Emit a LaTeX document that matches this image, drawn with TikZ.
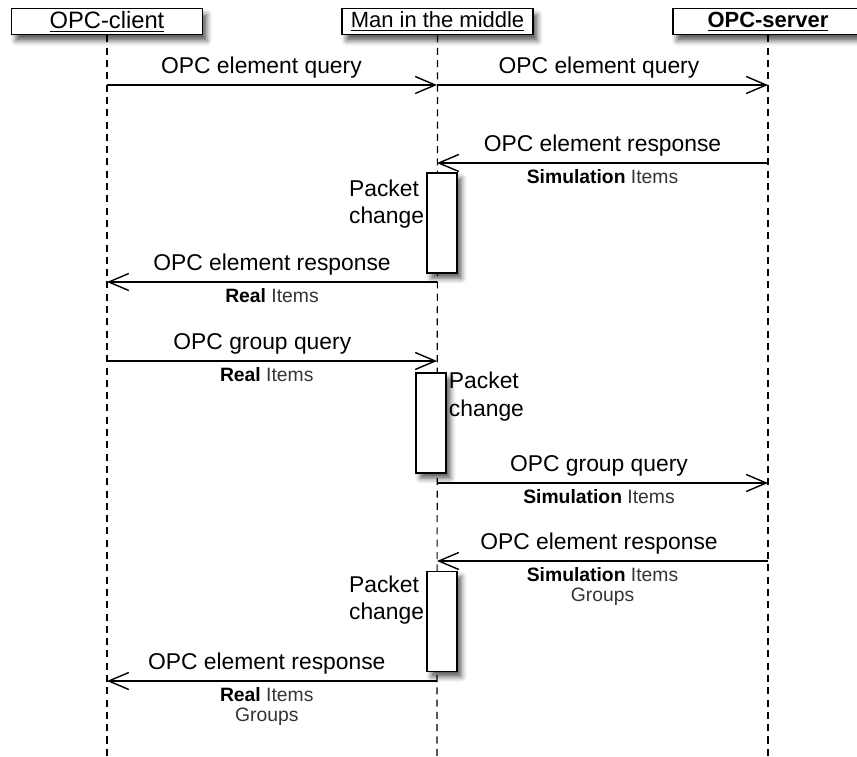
\documentclass[tikz,border=0pt]{standalone}
\usepackage{fontspec}
\setmainfont{Liberation Sans}
\usetikzlibrary{arrows.meta,shadows.blur}
\tikzset{
  head/.style={draw,fill=white,line width=1.1pt,minimum width=3.82cm,minimum height=0.52cm,
    inner sep=0pt,font=\fontsize{12.5}{14}\selectfont,
    blur shadow={shadow xshift=2.5pt,shadow yshift=-3.5pt,shadow blur radius=3pt,shadow opacity=65}},
  akt/.style={draw,fill=white,line width=1pt,minimum width=0.6cm,minimum height=2cm,inner sep=0pt,
    blur shadow={shadow xshift=2.5pt,shadow yshift=-3pt,shadow blur radius=3pt,shadow opacity=65}},
  life/.style={dash pattern=on 4pt off 3pt,line width=0.65pt},
  msg/.style={-{Straight Barb[length=4mm,width=3.4mm]},line width=0.8pt},
  lab/.style={font=\fontsize{13}{15}\selectfont},
  sub/.style={font=\fontsize{11}{11.4}\selectfont,align=center,text=black!80},
  pc/.style={font=\fontsize{13}{15.5}\selectfont,align=left,inner sep=1pt},
}

\begin{document}
\begin{tikzpicture}[x=0.02cm,y=-0.02cm]
  \useasboundingbox (0,0) rectangle (857,756);
  % lanes
  \node[head,font=\fontsize{13.5}{15}\selectfont] (client) at (107,21.5) {\underline{OPC-client}};
  \node[head] (mitm) at (437.5,21.5) {\underline{Man in the middle}};
  \node[head] (server) at (768,21.5) {\underline{\textbf{OPC-server}}};
  \coordinate (cend) at (107,756);
  \coordinate (mend) at (437,756);
  \coordinate (send) at (768,756);
  \draw[life] (client.south) -- (cend);
  \draw[life] (mitm.south) -- (mend);
  \draw[life] (server.south) -- (send);
  \foreach \n/\y in {1/85,2/163,3/282,4/361,5/483,6/561,7/681}{
    \coordinate (c\n) at (107,\y);
    \coordinate (m\n) at (437,\y);
    \coordinate (s\n) at (768,\y);
  }
  % packet changes
  \node[akt] (pc1) at (442,223) {};
  \node[akt] (pc2) at (431,423) {};
  \node[akt] (pc3) at (442,621.5) {};
  \node[pc,anchor=north east,yshift=-3.4pt] (pk1) at (pc1.north west) {Packet\\change};
  \node[pc,anchor=north west,yshift=1.1pt] (pk2) at (pc2.north east) {Packet\\change};
  \node[pc,anchor=north east,yshift=-1.7pt] (pk3) at (pc3.north west) {Packet\\change};
  % messages
  \draw[msg] (c1) -- (m1) node[lab,midway,above,xshift=-6pt]{OPC element query};
  \draw[msg] (m1) -- (s1) node[lab,midway,above,xshift=-2pt]{OPC element query};
  \draw[msg] (s2) -- (m2) node[lab,midway,above]{OPC element response}
    node[sub,midway,below]{\textcolor{black}{\textbf{Simulation}} Items};
  \draw[msg] (m3) -- (c3) node[lab,midway,above]{OPC element response}
    node[sub,midway,below]{\textcolor{black}{\textbf{Real}} Items};
  \draw[msg] (c4) -- (m4) node[lab,midway,above,xshift=-5.5pt]{OPC group query}
    node[sub,midway,below,xshift=-3pt]{\textcolor{black}{\textbf{Real}} Items};
  \draw[msg] (m5) -- (s5) node[lab,midway,above,xshift=-2pt]{OPC group query}
    node[sub,midway,below,xshift=-2pt]{\textcolor{black}{\textbf{Simulation}} Items};
  \draw[msg] (s6) -- (m6) node[lab,midway,above,xshift=-2pt]{OPC element response}
    node[sub,midway,below]{\textcolor{black}{\textbf{Simulation}} Items\\Groups};
  \draw[msg] (m7) -- (c7) node[lab,midway,above,xshift=-3pt]{OPC element response}
    node[sub,midway,below,xshift=-3pt]{\textcolor{black}{\textbf{Real}} Items\\Groups};
\end{tikzpicture}
\end{document}
